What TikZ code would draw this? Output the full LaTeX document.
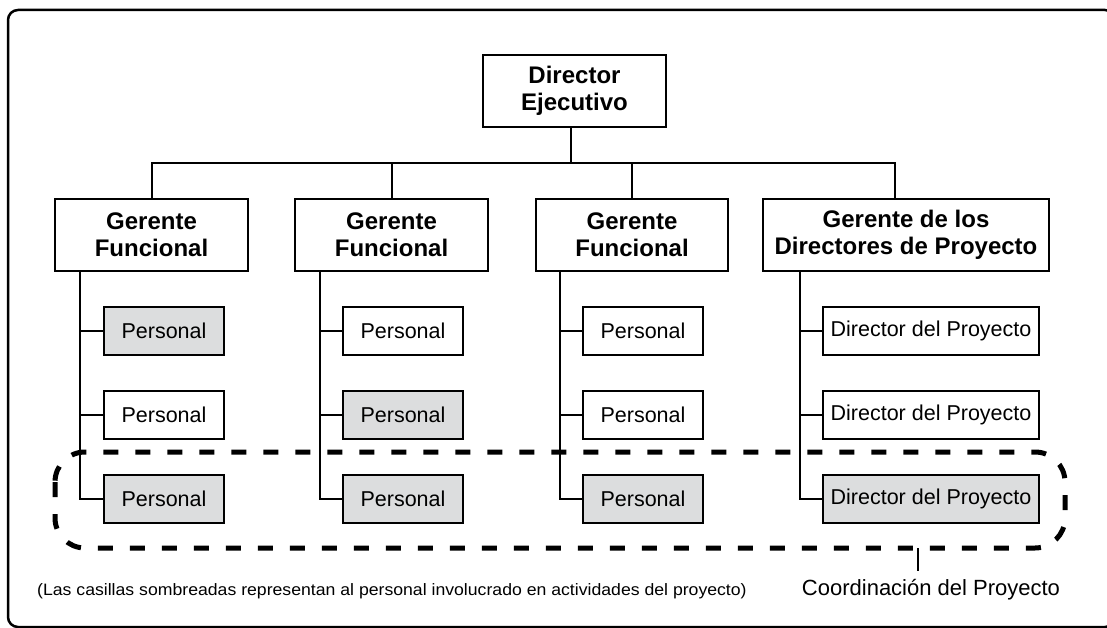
\documentclass[tikz,border=0pt]{standalone}
\usepackage{fontspec}
\setmainfont{Liberation Sans}
\definecolor{shade}{RGB}{220,221,222}
\begin{document}
\begin{tikzpicture}[x=1pt,y=-1pt,
  box/.style={draw, line width=2pt, inner sep=0pt, align=center},
  head/.style={box, font=\fontsize{24}{27}\selectfont\bfseries, minimum height=72pt},
  staff/.style={box, font=\fontsize{21.5}{25}\selectfont, minimum height=48pt, minimum width=120pt},
  pm/.style={staff, minimum width=216pt},
  shaded/.style={fill=shade},
  link/.style={line width=2pt},
  coord/.style={line width=5pt, dash pattern=on 15pt off 17pt, rounded corners=30pt}]
\useasboundingbox (0,0) rectangle (1107,628);
\clip (0,0) rectangle (1107,628);
\draw[line width=2.5pt, rounded corners=10pt] (8,10) rectangle (1115,627);

% top
\node[head, minimum width=183pt] (ceo) at (574.5,91) {Director\\Ejecutivo};
\node[head, minimum width=193pt] (g1) at (151.5,235) {Gerente\\Funcional};
\node[head, minimum width=193pt] (g2) at (391.5,235) {Gerente\\Funcional};
\node[head, minimum width=192pt] (g3) at (632,235) {Gerente\\Funcional};
\node[head, minimum width=286pt] (g4) at (906,235) {Gerente de los\\Directores de Proyecto};

\coordinate (ceoS) at (571,127);
\coordinate (g4N) at (895,199);
\draw[link] (ceoS) -- (ceoS |- 0,163);
\draw[link] (g1.north) -- (g1.north |- 0,163) -| (g4N);
\draw[link] (g2.north) -- (g2.north |- 0,163);
\draw[link] (g3.north) -- (g3.north |- 0,163);

% column 1
\node[staff, shaded] (c11) at (164,331) {Personal};
\node[staff] (c12) at (164,415) {Personal};
\node[staff, shaded] (c13) at (164,499) {Personal};
% column 2
\node[staff] (c21) at (403,331) {Personal};
\node[staff, shaded] (c22) at (403,415) {Personal};
\node[staff, shaded] (c23) at (403,499) {Personal};
% column 3
\node[staff] (c31) at (643,331) {Personal};
\node[staff] (c32) at (643,415) {Personal};
\node[staff, shaded] (c33) at (643,499) {Personal};
% column 4
\node[pm] (c41) at (931,331) {Director del Proyecto};
\node[pm] (c42) at (931,415) {Director del Proyecto};
\node[pm, shaded] (c43) at (931,499) {Director del Proyecto};

\coordinate (s1) at (80,271);
\coordinate (s2) at (320,271);
\coordinate (s3) at (560,271);
\coordinate (s4) at (800,271);
\foreach \i in {1,2,3,4}{
  \draw[link] (s\i) |- (c\i3.west);
  \draw[link] (s\i |- c\i1.west) -- (c\i1.west);
  \draw[link] (s\i |- c\i2.west) -- (c\i2.west);
}

% coordination
\draw[coord] (55,452) rectangle (1065,548);
\coordinate (tk) at (918,548);
\node[font=\fontsize{22}{26}\selectfont, anchor=base] (coordlbl) at (931,595) {Coordinación del Proyecto};
\draw[link] (tk) -- (tk |- 0,571);

\node[font=\fontsize{16.5}{19}\selectfont, anchor=base west, inner sep=0pt] (note) at (37,595)
  {\scalebox{1.07}[1]{(Las casillas sombreadas representan al personal involucrado en actividades del proyecto)}};
\end{tikzpicture}
\end{document}
